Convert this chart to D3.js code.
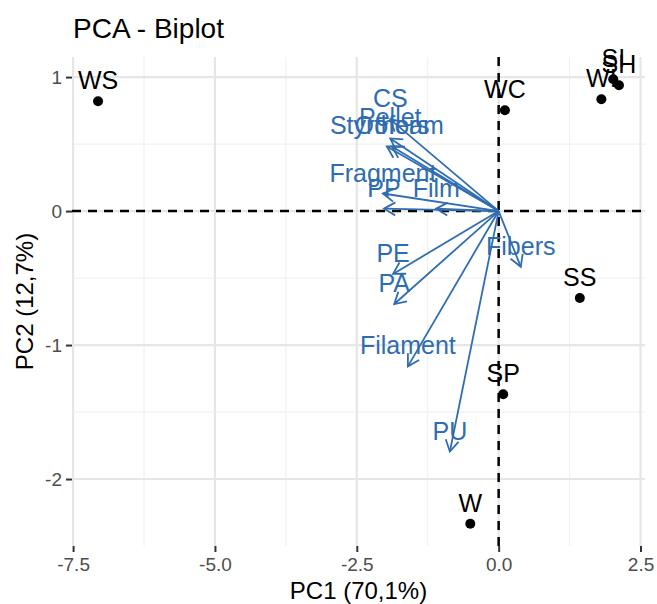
<!DOCTYPE html>
<html>
<head>
<meta charset="utf-8">
<script src="https://cdn.jsdelivr.net/npm/d3@7"></script>
<style>
  body { margin: 0; background: white; }
  text { font-family: "Liberation Sans", Arial, sans-serif; }
</style>
</head>
<body>
<div id="my_dataviz"></div>
<script>
// individuals (scores on PC1 / PC2)
var indNames = ["WS", "WC", "WI", "SI", "SH", "SS", "SP", "W"];
var indPC1 = [-7.06, 0.11, 1.81, 2.02, 2.12, 1.43, 0.08, -0.50];
var indPC2 = [0.819, 0.752, 0.834, 0.984, 0.939, -0.649, -1.367, -2.334];

// variables (scaled loadings, arrow tips)
var varNames = ["CS", "Pellet", "Styrofoam", "Others", "Fragment", "PP", "Film", "PE", "PA", "Filament", "PU", "Fibers"];
var varPC1 = [-1.91, -1.91, -1.97, -1.88, -2.04, -2.02, -1.10, -1.86, -1.84, -1.60, -0.86, 0.39];
var varPC2 = [0.684, 0.542, 0.482, 0.482, 0.131, 0.018, 0.018, -0.469, -0.694, -1.159, -1.795, -0.416];

var xTicks = [-7.5, -5.0, -2.5, 0.0, 2.5];
var xMinor = [-6.25, -3.75, -1.25, 1.25];
var yTicks = [-2, -1, 0, 1];
var yMinor = [-1.5, -0.5, 0.5];

var width = 657, height = 604;
var panel = {left: 72, right: 645, top: 57, bottom: 546};
var blue = "#2f6db0";

var svg = d3.select("#my_dataviz")
  .append("svg")
  .attr("width", width)
  .attr("height", height);

// ranges from data with ggplot's 5% expansion
var allX = indPC1.concat(varPC1, [0]);
var allY = indPC2.concat(varPC2, [0]);
function expand(ext) {
  var pad = (ext[1] - ext[0]) * 0.05;
  return [ext[0] - pad, ext[1] + pad];
}
var x = d3.scaleLinear().domain(expand(d3.extent(allX))).range([panel.left, panel.right]);
var y = d3.scaleLinear().domain(expand(d3.extent(allY))).range([panel.bottom, panel.top]);

// R style labels, plain hyphen for minus
var fmtX = function(d) { return d.toFixed(1).replace("\u2212", "-"); };
var fmtY = function(d) { return String(d); };

// grid
var grid = svg.append("g");
grid.selectAll(".xminor").data(xMinor).enter().append("line")
  .attr("x1", d => x(d)).attr("x2", d => x(d))
  .attr("y1", panel.top).attr("y2", panel.bottom)
  .style("stroke", "#f1f1f1").style("stroke-width", 1.2);
grid.selectAll(".yminor").data(yMinor).enter().append("line")
  .attr("y1", d => y(d)).attr("y2", d => y(d))
  .attr("x1", panel.left).attr("x2", panel.right)
  .style("stroke", "#f1f1f1").style("stroke-width", 1.2);
grid.selectAll(".xmajor").data(xTicks).enter().append("line")
  .attr("x1", d => x(d)).attr("x2", d => x(d))
  .attr("y1", panel.top).attr("y2", panel.bottom)
  .style("stroke", "#e6e6e6").style("stroke-width", 2.2);
grid.selectAll(".ymajor").data(yTicks).enter().append("line")
  .attr("y1", d => y(d)).attr("y2", d => y(d))
  .attr("x1", panel.left).attr("x2", panel.right)
  .style("stroke", "#e6e6e6").style("stroke-width", 2.2);

// axes
var xAxis = svg.append("g")
  .attr("transform", "translate(0," + panel.bottom + ")")
  .call(d3.axisBottom(x).tickValues(xTicks).tickFormat(fmtX).tickSize(6).tickSizeOuter(0).tickPadding(6));
var yAxis = svg.append("g")
  .attr("transform", "translate(" + panel.left + ",0)")
  .call(d3.axisLeft(y).tickValues(yTicks).tickFormat(fmtY).tickSize(6).tickSizeOuter(0).tickPadding(4));
[xAxis, yAxis].forEach(function(a) {
  a.select(".domain").remove();
  a.selectAll(".tick line").style("stroke", "#333").style("stroke-width", 2);
  a.selectAll(".tick text")
    .style("fill", "#4d4d4d")
    .style("font-size", "19px")
    .style("font-family", "'Liberation Sans', Arial, sans-serif");
});

// dashed zero lines
svg.append("line")
  .attr("x1", x(0)).attr("x2", x(0)).attr("y1", panel.top).attr("y2", panel.bottom)
  .style("stroke", "black").style("stroke-width", 2.5).style("stroke-dasharray", "9,7");
svg.append("line")
  .attr("y1", y(0)).attr("y2", y(0)).attr("x1", panel.left).attr("x2", panel.right)
  .style("stroke", "black").style("stroke-width", 2.5).style("stroke-dasharray", "9,7");

// variable arrows
var vars = varNames.map(function(n, i) { return {name: n, px: varPC1[i], py: varPC2[i]}; });
var headLen = 13, headAng = Math.PI / 6;
var arrows = svg.append("g");
vars.forEach(function(d) {
  var x0 = x(0), y0 = y(0), x1 = x(d.px), y1 = y(d.py);
  var a = Math.atan2(y1 - y0, x1 - x0);
  arrows.append("line")
    .attr("x1", x0).attr("y1", y0).attr("x2", x1).attr("y2", y1)
    .style("stroke", blue).style("stroke-width", 1.8);
  arrows.append("path")
    .attr("d", "M" + (x1 - headLen * Math.cos(a - headAng)) + "," + (y1 - headLen * Math.sin(a - headAng)) +
      "L" + x1 + "," + y1 +
      "L" + (x1 - headLen * Math.cos(a + headAng)) + "," + (y1 - headLen * Math.sin(a + headAng)))
    .style("fill", "none").style("stroke", blue).style("stroke-width", 1.8);
});

// individual points and labels
var inds = indNames.map(function(n, i) { return {name: n, px: indPC1[i], py: indPC2[i]}; });
svg.selectAll(".pt").data(inds).enter().append("circle")
  .attr("cx", d => x(d.px)).attr("cy", d => y(d.py)).attr("r", 5)
  .style("fill", "black");
svg.selectAll(".indlab").data(inds).enter().append("text")
  .attr("x", d => x(d.px)).attr("y", d => y(d.py) - 12)
  .attr("text-anchor", "middle")
  .style("font-size", "25px").style("fill", "black")
  .text(d => d.name);

svg.selectAll(".varlab").data(vars).enter().append("text")
  .attr("x", d => x(d.px)).attr("y", d => y(d.py) - 12)
  .attr("text-anchor", "middle")
  .style("font-size", "25px").style("fill", blue)
  .text(d => d.name);

// titles
svg.append("text").attr("x", 73).attr("y", 38)
  .style("font-size", "28px").style("fill", "black").text("PCA - Biplot");
svg.append("text").attr("x", (panel.left + panel.right) / 2).attr("y", 599)
  .attr("text-anchor", "middle")
  .style("font-size", "24px").style("fill", "black").text("PC1 (70,1%)");
svg.append("text")
  .attr("transform", "translate(33," + ((panel.top + panel.bottom) / 2) + ") rotate(-90)")
  .attr("text-anchor", "middle")
  .style("font-size", "24px").style("fill", "black").text("PC2 (12,7%)");
</script>
</body>
</html>
